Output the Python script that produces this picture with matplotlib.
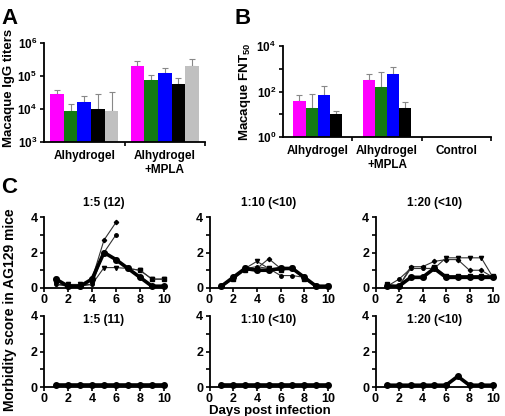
import numpy as np
import matplotlib
matplotlib.use("Agg")
import matplotlib.pyplot as plt

plt.rcParams['font.family'] = ['Liberation Sans', 'DejaVu Sans']
plt.rcParams['font.weight'] = 'bold'
plt.rcParams['mathtext.fontset'] = 'custom'
plt.rcParams['mathtext.bf'] = 'Liberation Sans:bold'
plt.rcParams['mathtext.rm'] = 'Liberation Sans:bold'

# ---------------- data ----------------
groups_A = ["Alhydrogel", "Alhydrogel\n+MPLA"]
colors_A = ["#FF00FF", "#137A13", "#0000FF", "#000000", "#C0C0C0"]
igg_vals = [[2.8e4, 9.0e3, 1.6e4, 1.0e4, 8.5e3],
            [2.0e5, 7.8e4, 1.2e5, 5.6e4, 2.0e5]]
igg_err_top = [[3.7e4, 1.4e4, 2.4e4, 2.8e4, 3.3e4],
               [2.8e5, 1.1e5, 1.7e5, 8.5e4, 3.2e5]]

groups_B = ["Alhydrogel", "Alhydrogel\n+MPLA", "Control"]
colors_B = ["#FF00FF", "#137A13", "#0000FF", "#000000"]
fnt_vals = [[38, 19, 70, 10],
            [310, 163, 600, 18],
            [0, 0, 0, 0]]
fnt_err_top = [[72, 80, 170, 13.5],
               [600, 700, 1200, 36],
               [0, 0, 0, 0]]

days = [1, 2, 3, 4, 5, 6, 7, 8, 9, 10]
titles_row1 = ["1:5 (12)", "1:10 (<10)", "1:20 (<10)"]
titles_row2 = ["1:5 (11)", "1:10 (<10)", "1:20 (<10)"]

# each panel: list of mouse curves (first one is drawn thick)
row1_curves = [
    [[0.5, 0.1, 0.1, 0.5, 2.0, 1.6, 1.1, 0.6, 0.1, 0.1],
     [0.2, 0.2, 0.2, 0.2, 1.15, 1.15, 1.1, 1.0, 0.5, 0.5],
     [0.5, 0.1, 0.1, 0.5, 2.7, 3.7],
     [0.2, 0.1, 0.1, 0.2, 2.0, 3.0],
     [0.5, 0.1, 0.1, 0.5, 2.0, 1.6, 1.1, 1.0, 0.5, 0.5]],
    [[0.1, 0.6, 1.1, 1.0, 1.0, 1.1, 1.1, 0.6, 0.1, 0.1],
     [0.1, 0.5, 1.1, 1.5, 1.1, 1.1, 1.1, 0.6, 0.1, 0.1],
     [0.1, 0.6, 1.1, 1.1, 1.65, 1.1, 1.1, 0.6, 0.1, 0.1],
     [0.1, 0.6, 1.1, 1.2, 1.1, 0.7, 0.7, 0.6, 0.1, 0.1],
     [0.1, 0.5, 1.0, 1.0, 1.0, 1.0, 1.1, 0.5, 0.1, 0.1]],
    [[0.1, 0.1, 0.6, 0.6, 1.1, 0.6, 0.6, 0.6, 0.6, 0.6],
     [0.1, 0.1, 1.1, 1.1, 1.1, 1.7, 1.7, 1.7, 1.7, 0.6],
     [0.1, 0.1, 1.2, 1.2, 1.5, 1.6, 1.6, 1.0, 1.0, 0.6],
     [0.1, 0.5, 1.1, 1.1, 1.1, 0.6, 0.6, 0.6, 0.6, 0.6],
     [0.2, 0.1, 0.6, 0.6, 1.2, 0.7, 0.7, 0.7, 0.7, 0.7]],
]
row2_curves = [
    [[0.1] * 10],
    [[0.1] * 10],
    [[0.1, 0.1, 0.1, 0.1, 0.1, 0.1, 0.6, 0.1, 0.1, 0.1]],
]

# ---------------- figure ----------------
W, H = 505, 416
fig = plt.figure(figsize=(W / 100, H / 100), dpi=100)

def rect(l, r, t, b):
    return [l / W, 1 - b / H, (r - l) / W, (b - t) / H]

def style(ax):
    for s in ['top', 'right']:
        ax.spines[s].set_visible(False)
    for s in ['left', 'bottom']:
        ax.spines[s].set_linewidth(1.3)
    ax.tick_params(which='both', direction='out', width=1.2, length=3, pad=2, labelsize=8.5)

# Panel A
axA = fig.add_axes(rect(44, 205, 43, 142))
style(axA)
nA = len(colors_A)
wA = 0.17
for gi in range(len(groups_A)):
    for bi in range(nA):
        x = gi + (bi - (nA - 1) / 2) * wA
        v = igg_vals[gi][bi]
        axA.bar(x, v, width=wA, color=colors_A[bi], zorder=2)
        axA.errorbar(x, v, yerr=[[0], [igg_err_top[gi][bi] - v]], ecolor='#888888',
                     elinewidth=0.8, capsize=2, capthick=0.8, fmt='none', zorder=1)
axA.set_yscale('log')
axA.set_ylim(1e3, 1e6)
axA.set_xlim(-0.5, 1.5)
axA.set_yticks([1e3, 1e4, 1e5, 1e6])
axA.set_yticklabels([r'$\mathbf{10^{3}}$', r'$\mathbf{10^{4}}$', r'$\mathbf{10^{5}}$', r'$\mathbf{10^{6}}$'])
axA.yaxis.set_minor_locator(matplotlib.ticker.NullLocator())
axA.set_xticks([0.5, 1.5])
axA.set_xticklabels(['', ''])
axA.set_xticks(range(len(groups_A)), minor=True)
axA.set_xticklabels(groups_A, minor=True, fontsize=8.5, fontweight='bold')
axA.tick_params(axis='x', which='minor', length=0, pad=6)
axA.tick_params(axis='x', which='major', length=3)
fig.text(9 / W, 1 - 88 / H, 'Macaque IgG titers', rotation=90, ha='center', va='center',
         fontsize=9.5, fontweight='bold')

# Panel B
axB = fig.add_axes(rect(283, 491, 46, 137))
style(axB)
nB = len(colors_B)
wB = 0.175
for gi in range(len(groups_B)):
    for bi in range(nB):
        v = fnt_vals[gi][bi]
        if v <= 0:
            continue
        x = gi + (bi - (nB - 1) / 2) * wB
        axB.bar(x, v, width=wB, color=colors_B[bi], zorder=2)
        axB.errorbar(x, v, yerr=[[0], [fnt_err_top[gi][bi] - v]], ecolor='#888888',
                     elinewidth=0.8, capsize=2, capthick=0.8, fmt='none', zorder=1)
axB.set_yscale('log')
axB.set_ylim(1, 1e4)
axB.set_xlim(-0.5, 2.5)
axB.set_yticks([1, 10, 100, 1000, 1e4])
axB.set_yticklabels([r'$\mathbf{10^{0}}$', '', r'$\mathbf{10^{2}}$', '', r'$\mathbf{10^{4}}$'])
axB.yaxis.set_minor_locator(matplotlib.ticker.NullLocator())
axB.set_xticks([0.5, 1.5, 2.5])
axB.set_xticklabels(['', '', ''])
axB.set_xticks(range(len(groups_B)), minor=True)
axB.set_xticklabels(groups_B, minor=True, fontsize=8.5, fontweight='bold')
axB.tick_params(axis='x', which='minor', length=0, pad=6)
axB.tick_params(axis='x', which='major', length=3)
fig.text(245 / W, 1 - 92 / H, r'Macaque FNT$_{\mathbf{50}}$', rotation=90, ha='center',
         va='center', fontsize=9.5, fontweight='bold')

# Panel C
cols = [(44, 164), (209.5, 328), (375.5, 493)]
rows = [(217, 288), (316, 387)]
markers = ['o', 'v', 'D', 'o', 's']
msizes = [3.5, 3, 2.2, 2.5, 3]
for ri, (curves_set, titles) in enumerate([(row1_curves, titles_row1), (row2_curves, titles_row2)]):
    t, b = rows[ri]
    for ci, (l, r) in enumerate(cols):
        ax = fig.add_axes(rect(l, r, t, b))
        style(ax)
        curves = curves_set[ci]
        for k in range(len(curves) - 1, -1, -1):
            y = curves[k]
            x = days[:len(y)]
            if k == 0:
                ax.plot(x, y, color='black', lw=2.6, marker='o', ms=4, zorder=5, clip_on=False)
            else:
                ax.plot(x, y, color='#333333', lw=0.8, marker=markers[k], ms=msizes[k],
                        mfc='black', mec='black', zorder=3, clip_on=False)
        ax.set_xlim(0, 10)
        ax.set_ylim(0, 4)
        ax.set_xticks([0, 2, 4, 6, 8, 10])
        ax.set_yticks([0, 1, 2, 3, 4])
        ax.set_yticklabels(['0', '', '2', '', '4'])
        ax.tick_params(axis='both', labelsize=9, pad=1.5)
        for lab in ax.get_xticklabels() + ax.get_yticklabels():
            lab.set_fontweight('bold')
        ty = 203 if ri == 0 else 320
        fig.text((l + r) / 2 / W, 1 - ty / H, titles[ci], ha='center', va='center',
                 fontsize=8.5, fontweight='bold')

fig.text(10 / W, 1 - 310 / H, 'Morbidity score in AG129 mice', rotation=90,
         ha='center', va='center', fontsize=10, fontweight='bold')
fig.text(270 / W, 1 - 411 / H, 'Days post infection', ha='center', va='center',
         fontsize=9.5, fontweight='bold')

# panel letters
fig.text(1 / W, 1 - 18 / H, 'A', fontsize=16, fontweight='bold', va='center')
fig.text(234 / W, 1 - 18 / H, 'B', fontsize=16, fontweight='bold', va='center')
fig.text(1 / W, 1 - 188 / H, 'C', fontsize=16, fontweight='bold', va='center')

fig.savefig('out.png', dpi=100)
